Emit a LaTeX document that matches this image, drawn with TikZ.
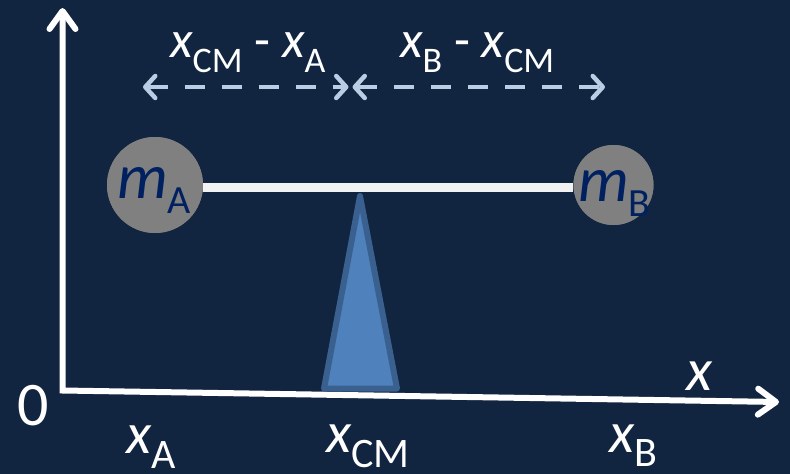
\documentclass[tikz,border=0pt]{standalone}
\usepackage{fontspec}
\setmainfont{Carlito}
\usetikzlibrary{arrows.meta}
\definecolor{bgc}{RGB}{17,36,64}
\definecolor{massfill}{RGB}{128,128,128}
\definecolor{masstext}{RGB}{0,32,96}
\definecolor{barc}{RGB}{242,242,242}
\definecolor{trifill}{RGB}{79,129,189}
\definecolor{triedge}{RGB}{58,96,143}
\definecolor{arrc}{RGB}{185,205,229}
\newcommand\xsub[5]{{\fontsize{#1}{#1}\selectfont\itshape #5}{\fontsize{#2}{#2}\selectfont\raisebox{-#3}[0pt][0pt]{\upshape #4}}}
\tikzset{
  axisline/.style={draw=white, line width=6pt, line join=miter,
    {Straight Barb[length=18pt,width=26pt,line cap=round,line join=round]}-{Straight Barb[length=18pt,width=26pt,line cap=round,line join=round]}},
  massball/.style={circle, fill=massfill, draw=none, inner sep=0pt},
  beam/.style={draw=barc, line width=9.5pt},
  distarrow/.style={draw=arrc, line width=4.5pt, dash pattern=on 20pt off 17pt,
    {Straight Barb[length=10pt,width=22pt,line cap=round,line join=round]}-{Straight Barb[length=10pt,width=22pt,line cap=round,line join=round]}},
  txt/.style={text=white, inner sep=0pt, anchor=base west},
  mtxt/.style={text=masstext, inner sep=0pt, anchor=base west},
}
\begin{document}
\begin{tikzpicture}[x=1pt,y=-1pt]
\fill[bgc] (0,0) rectangle (790,474);
\useasboundingbox (0,0) rectangle (790,474);

% axes
\coordinate (O) at (62.5,390.5);
\coordinate (Xend) at (779,402);
\coordinate (Yend) at (62.5,8);
\draw[axisline] (Yend) -- (O) -- (Xend);

% beam and masses
\node[massball, minimum size=96pt] (mA) at (155,185) {};
\node[massball, minimum size=80pt] (mB) at (613.5,185) {};
\draw[beam] ([yshift=-2.5pt]mA.east) -- ([yshift=-2.5pt]mB.west);
\node[massball, minimum size=96pt] at (mA) {};
\node[massball, minimum size=80pt] at (mB) {};
\node[mtxt] (labA) at (117,198) {\xsub{64}{40}{15pt}{A}{m}};
\node[mtxt] (labB) at (578,201) {\xsub{64}{40}{15pt}{B}{m}};

% pivot
\coordinate (apex) at (360,196);
\coordinate (bl) at (324,388.5);
\coordinate (br) at (397,388.5);
\draw[fill=trifill, draw=triedge, line width=6pt, line join=round] (apex) -- (bl) -- (br) -- cycle;

% distance arrows
\coordinate (L1) at (143,87);
\coordinate (M1) at (348.5,87);
\coordinate (M2) at (352.5,87);
\coordinate (R1) at (605,87);
\draw[distarrow] (L1) -- (M1);
\draw[distarrow] (M2) -- (R1);
\node[txt] (d1) at (170,57) {\fontsize{52}{52}\selectfont\xsub{52}{36}{15pt}{CM}{x} - \xsub{52}{36}{15pt}{A}{x}};
\node[txt] (d2) at (400,57) {\fontsize{52}{52}\selectfont\xsub{52}{36}{15pt}{B}{x} - \xsub{52}{36}{15pt}{CM}{x}};

% axis labels
\node[txt] (zero) at (17,425) {\fontsize{62}{62}\selectfont 0};
\node[txt] (xlab) at (686,390) {\fontsize{60}{60}\selectfont\itshape x};
\node[txt] (xA) at (126,453) {\xsub{58}{42}{15pt}{A}{x}};
\node[txt] (xCM) at (326,452) {\xsub{58}{42}{15pt}{CM}{x}};
\node[txt] (xB) at (609,452) {\xsub{58}{42}{14pt}{B}{x}};
\end{tikzpicture}
\end{document}
